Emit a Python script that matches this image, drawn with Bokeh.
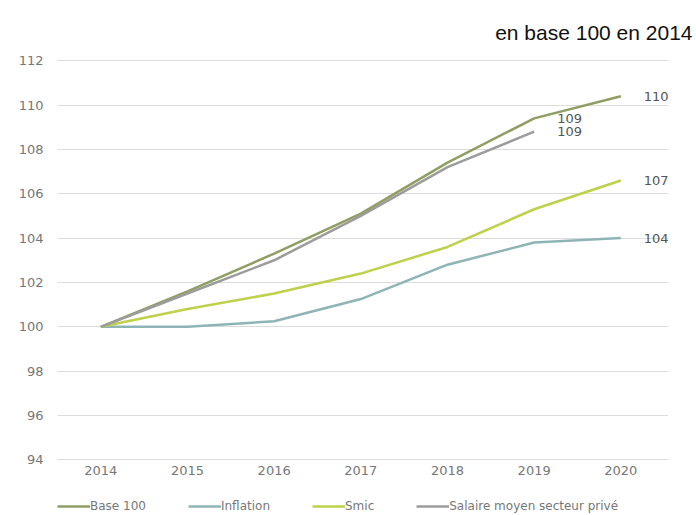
from bokeh.plotting import figure
from bokeh.models import Range1d, FixedTicker, Legend, LegendItem, LabelSet, ColumnDataSource
from bokeh.core.properties import value
from bokeh.embed import file_html
from bokeh.resources import INLINE

years = [2014, 2015, 2016, 2017, 2018, 2019, 2020]
year_labels = ["2014", "2015", "2016", "2017", "2018", "2019", "2020"]
base100 = [100.0, 101.6, 103.3, 105.1, 107.4, 109.4, 110.4]
inflation = [100.0, 100.0, 100.25, 101.25, 102.8, 103.8, 104.0]
smic = [100.0, 100.8, 101.5, 102.4, 103.6, 105.3, 106.6]
salaire_years = [2014, 2015, 2016, 2017, 2018, 2019]
salaire = [100.0, 101.5, 103.0, 105.0, 107.2, 108.8]
y_ticks = [94, 96, 98, 100, 102, 104, 106, 108, 110, 112]

label_x = [2020, 2019, 2019, 2020, 2020]
label_y = [110.4, 109.4, 108.8, 106.6, 104.0]
label_text = ["110", "109", "109", "107", "104"]

series = [
    ("Base 100", years, base100, "#8f9e63"),
    ("Inflation", years, inflation, "#8fb4b6"),
    ("Smic", years, smic, "#bfd04a"),
    ("Salaire moyen secteur privé", salaire_years, salaire, "#9c9c9c"),
]

p = figure(frame_width=611, frame_height=467, output_backend="svg", toolbar_location=None,
           x_range=Range1d(2013.5, 2020.55), y_range=Range1d(91.49, 112.55),
           x_axis_location=None,
           min_border_left=57, min_border_right=28, min_border_top=48, min_border_bottom=0)
p.outline_line_color = None
p.background_fill_color = "white"
p.border_fill_color = "white"

p.title.text = "en base 100 en 2014"
p.title.align = "right"
p.title.offset = -24
p.title.text_font = "Liberation Sans"
p.title.text_font_size = "21px"
p.title.text_font_style = "normal"
p.title.text_color = "#111111"

p.xgrid.grid_line_color = None
p.ygrid.grid_line_color = "#dcdcdc"
p.ygrid.grid_line_width = 1
p.ygrid.ticker = FixedTicker(ticks=y_ticks)

p.yaxis.ticker = FixedTicker(ticks=y_ticks)
ax = p.yaxis[0]
ax.axis_line_color = None
ax.major_tick_line_color = None
ax.minor_tick_line_color = None
ax.major_tick_out = 0
ax.minor_tick_out = 0
ax.major_tick_in = 0
ax.minor_tick_in = 0
ax.major_label_text_font = "DejaVu Sans"
ax.major_label_text_font_size = "13px"
ax.major_label_text_color = "#777777"
ax.major_label_standoff = 14

# year labels under the lowest gridline
ysrc = ColumnDataSource(data=dict(x=years, y=[y_ticks[0]] * len(years), t=year_labels))
p.add_layout(LabelSet(x="x", y="y", text="t", source=ysrc, y_offset=-11,
                      text_baseline="middle", text_align="center",
                      text_font=value("DejaVu Sans"), text_font_size=value("13px"),
                      text_color="#777777"))

items = []
for name, xs, ys, col in series:
    r = p.line(xs, ys, line_color=col, line_width=2.5)
    items.append(LegendItem(label=name, renderers=[r]))

ends = ColumnDataSource(data=dict(x=label_x, y=label_y, t=label_text))
labels = LabelSet(x="x", y="y", text="t", source=ends, x_offset=23,
                  text_baseline="middle", text_align="left",
                  text_font=value("DejaVu Sans"), text_font_size=value("13px"),
                  text_color="#555555")
p.add_layout(labels)

legend = Legend(items=items, orientation="horizontal", location=(0, 2),
                glyph_width=33, glyph_height=10, label_height=14, label_standoff=0,
                spacing=42, label_text_font="DejaVu Sans", label_text_font_size="12px",
                label_text_color="#777777", border_line_alpha=0,
                background_fill_alpha=0, padding=0, margin=0)
p.add_layout(legend, "center")

open("out.html", "w").write(file_html(p, INLINE))
